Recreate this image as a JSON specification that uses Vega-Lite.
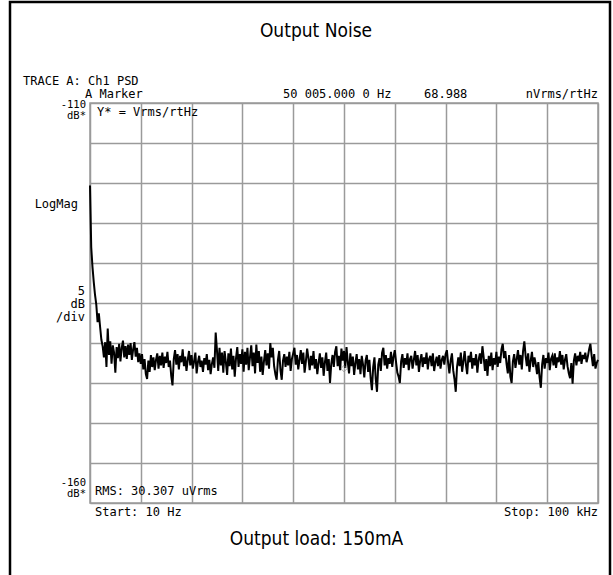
{
  "$schema": "https://vega.github.io/schema/vega-lite/v6.json",
  "width": 508,
  "height": 400,
  "autosize": "none",
  "padding": {"left": 90, "top": 103, "right": 15, "bottom": 72},
  "background": "white",
  "config": {
    "view": {"stroke": "#9a9a9a", "strokeWidth": 1.5},
    "text": {"font": "DejaVu Sans Mono", "fontSize": 12, "color": "black", "baseline": "alphabetic"}
  },
  "datasets": {
    "trace": [
      {"f":10,"db":-120.3},{"f":250,"db":-128.0},{"f":500,"db":-130.5},{"f":750,"db":-132.4},{"f":1000,"db":-134.0},{"f":1250,"db":-135.2},{"f":1500,"db":-137.4},{"f":1750,"db":-136.3},{"f":2000,"db":-138.0},{"f":2250,"db":-139.6},
      {"f":2500,"db":-140.4},{"f":2750,"db":-141.8},{"f":3000,"db":-139.9},{"f":3250,"db":-143.0},{"f":3500,"db":-138.2},{"f":3750,"db":-141.5},{"f":4000,"db":-139.8},{"f":4250,"db":-142.6},{"f":4500,"db":-140.3},{"f":4750,"db":-141.2},
      {"f":5000,"db":-143.7},{"f":5250,"db":-140.5},{"f":5500,"db":-141.9},{"f":5750,"db":-140.1},{"f":6000,"db":-142.3},{"f":6250,"db":-140.6},{"f":6500,"db":-139.7},{"f":6750,"db":-141.8},{"f":7000,"db":-140.4},{"f":7250,"db":-142.0},
      {"f":7500,"db":-140.2},{"f":7750,"db":-141.5},{"f":8000,"db":-140.0},{"f":8250,"db":-142.1},{"f":8500,"db":-140.8},{"f":8750,"db":-139.9},{"f":9000,"db":-141.7},{"f":9250,"db":-140.6},{"f":9500,"db":-142.4},{"f":9750,"db":-141.3},
      {"f":10000,"db":-142.6},{"f":10250,"db":-141.4},{"f":10500,"db":-143.3},{"f":10750,"db":-142.0},{"f":11000,"db":-143.9},{"f":11250,"db":-144.5},{"f":11500,"db":-142.2},{"f":11750,"db":-143.6},{"f":12000,"db":-141.5},{"f":12250,"db":-143.0},
      {"f":12500,"db":-141.8},{"f":12750,"db":-143.4},{"f":13000,"db":-142.1},{"f":13250,"db":-141.3},{"f":13500,"db":-143.2},{"f":13750,"db":-141.6},{"f":14000,"db":-142.8},{"f":14250,"db":-141.2},{"f":14500,"db":-143.1},{"f":14750,"db":-141.7},
      {"f":15000,"db":-142.5},{"f":15250,"db":-141.1},{"f":15500,"db":-143.0},{"f":15750,"db":-142.2},{"f":16000,"db":-144.1},{"f":16250,"db":-145.3},{"f":16500,"db":-142.0},{"f":16750,"db":-140.9},{"f":17000,"db":-142.7},{"f":17250,"db":-141.4},
      {"f":17500,"db":-143.3},{"f":17750,"db":-141.6},{"f":18000,"db":-142.4},{"f":18250,"db":-140.8},{"f":18500,"db":-142.9},{"f":18750,"db":-141.7},{"f":19000,"db":-143.5},{"f":19250,"db":-142.1},{"f":19500,"db":-141.0},{"f":19750,"db":-142.8},
      {"f":20000,"db":-141.5},{"f":20250,"db":-143.2},{"f":20500,"db":-142.3},{"f":20750,"db":-141.2},{"f":21000,"db":-143.8},{"f":21250,"db":-142.4},{"f":21500,"db":-141.6},{"f":21750,"db":-143.0},{"f":22000,"db":-142.2},{"f":22250,"db":-143.6},
      {"f":22500,"db":-141.9},{"f":22750,"db":-142.7},{"f":23000,"db":-141.4},{"f":23250,"db":-143.4},{"f":23500,"db":-142.1},{"f":23750,"db":-143.9},{"f":24000,"db":-142.6},{"f":24250,"db":-141.8},{"f":24500,"db":-143.1},{"f":24750,"db":-138.7},
      {"f":25000,"db":-140.9},{"f":25250,"db":-143.5},{"f":25500,"db":-140.6},{"f":25750,"db":-142.8},{"f":26000,"db":-141.2},{"f":26250,"db":-143.7},{"f":26500,"db":-141.0},{"f":26750,"db":-142.4},{"f":27000,"db":-144.0},{"f":27250,"db":-141.3},
      {"f":27500,"db":-142.9},{"f":27750,"db":-140.7},{"f":28000,"db":-143.3},{"f":28250,"db":-141.6},{"f":28500,"db":-144.2},{"f":28750,"db":-141.9},{"f":29000,"db":-140.5},{"f":29250,"db":-143.0},{"f":29500,"db":-141.4},{"f":29750,"db":-142.6},
      {"f":30000,"db":-140.8},{"f":30250,"db":-143.6},{"f":30500,"db":-141.1},{"f":30750,"db":-142.7},{"f":31000,"db":-140.6},{"f":31250,"db":-143.4},{"f":31500,"db":-141.8},{"f":31750,"db":-140.3},{"f":32000,"db":-142.9},{"f":32250,"db":-141.2},
      {"f":32500,"db":-143.8},{"f":32750,"db":-140.2},{"f":33000,"db":-142.5},{"f":33250,"db":-141.0},{"f":33500,"db":-143.6},{"f":33750,"db":-141.7},{"f":34000,"db":-144.0},{"f":34250,"db":-142.3},{"f":34500,"db":-140.9},{"f":34750,"db":-142.8},
      {"f":35000,"db":-141.3},{"f":35250,"db":-143.2},{"f":35500,"db":-140.0},{"f":35750,"db":-141.8},{"f":36000,"db":-140.6},{"f":36250,"db":-142.9},{"f":36500,"db":-143.9},{"f":36750,"db":-144.6},{"f":37000,"db":-142.1},{"f":37250,"db":-141.0},
      {"f":37500,"db":-143.4},{"f":37750,"db":-144.6},{"f":38000,"db":-142.2},{"f":38250,"db":-141.4},{"f":38500,"db":-143.0},{"f":38750,"db":-141.7},{"f":39000,"db":-142.8},{"f":39250,"db":-141.1},{"f":39500,"db":-143.5},{"f":39750,"db":-142.0},
      {"f":40000,"db":-141.3},{"f":40250,"db":-140.6},{"f":40500,"db":-142.7},{"f":40750,"db":-141.5},{"f":41000,"db":-143.3},{"f":41250,"db":-142.1},{"f":41500,"db":-140.9},{"f":41750,"db":-142.6},{"f":42000,"db":-141.2},{"f":42250,"db":-143.7},
      {"f":42500,"db":-142.3},{"f":42750,"db":-140.7},{"f":43000,"db":-141.9},{"f":43250,"db":-143.4},{"f":43500,"db":-141.6},{"f":43750,"db":-142.8},{"f":44000,"db":-141.0},{"f":44250,"db":-143.2},{"f":44500,"db":-142.0},{"f":44750,"db":-143.9},
      {"f":45000,"db":-142.5},{"f":45250,"db":-141.3},{"f":45500,"db":-143.1},{"f":45750,"db":-141.8},{"f":46000,"db":-144.1},{"f":46250,"db":-142.4},{"f":46500,"db":-141.2},{"f":46750,"db":-143.5},{"f":47000,"db":-142.0},{"f":47250,"db":-145.0},
      {"f":47500,"db":-142.6},{"f":47750,"db":-141.5},{"f":48000,"db":-143.0},{"f":48250,"db":-141.1},{"f":48500,"db":-140.4},{"f":48750,"db":-142.9},{"f":49000,"db":-141.6},{"f":49250,"db":-143.4},{"f":49500,"db":-140.7},{"f":49750,"db":-142.2},
      {"f":50000,"db":-141.0},{"f":50250,"db":-143.1},{"f":50500,"db":-140.5},{"f":50750,"db":-142.4},{"f":51000,"db":-143.8},{"f":51250,"db":-141.3},{"f":51500,"db":-142.9},{"f":51750,"db":-141.7},{"f":52000,"db":-144.0},{"f":52250,"db":-142.5},
      {"f":52500,"db":-141.4},{"f":52750,"db":-143.3},{"f":53000,"db":-142.0},{"f":53250,"db":-143.9},{"f":53500,"db":-141.6},{"f":53750,"db":-142.7},{"f":54000,"db":-144.3},{"f":54250,"db":-142.2},{"f":54500,"db":-141.5},{"f":54750,"db":-143.6},
      {"f":55000,"db":-142.1},{"f":55250,"db":-144.4},{"f":55500,"db":-145.9},{"f":55750,"db":-143.0},{"f":56000,"db":-141.8},{"f":56250,"db":-144.5},{"f":56500,"db":-146.1},{"f":56750,"db":-142.7},{"f":57000,"db":-141.9},{"f":57250,"db":-143.5},
      {"f":57500,"db":-141.2},{"f":57750,"db":-140.6},{"f":58000,"db":-142.8},{"f":58250,"db":-141.5},{"f":58500,"db":-143.2},{"f":58750,"db":-141.9},{"f":59000,"db":-142.6},{"f":59250,"db":-141.1},{"f":59500,"db":-143.0},{"f":59750,"db":-141.7},
      {"f":60000,"db":-140.9},{"f":60250,"db":-142.4},{"f":60500,"db":-143.7},{"f":60750,"db":-144.2},{"f":61000,"db":-145.0},{"f":61250,"db":-142.3},{"f":61500,"db":-141.4},{"f":61750,"db":-143.1},{"f":62000,"db":-141.9},{"f":62250,"db":-142.7},
      {"f":62500,"db":-141.3},{"f":62750,"db":-143.4},{"f":63000,"db":-142.0},{"f":63250,"db":-141.6},{"f":63500,"db":-143.2},{"f":63750,"db":-142.1},{"f":64000,"db":-141.0},{"f":64250,"db":-142.8},{"f":64500,"db":-141.5},{"f":64750,"db":-143.6},
      {"f":65000,"db":-142.2},{"f":65250,"db":-141.4},{"f":65500,"db":-143.0},{"f":65750,"db":-141.8},{"f":66000,"db":-142.6},{"f":66250,"db":-141.2},{"f":66500,"db":-143.3},{"f":66750,"db":-142.0},{"f":67000,"db":-141.6},{"f":67250,"db":-142.9},
      {"f":67500,"db":-141.3},{"f":67750,"db":-143.5},{"f":68000,"db":-142.4},{"f":68250,"db":-141.7},{"f":68500,"db":-142.9},{"f":68750,"db":-141.5},{"f":69000,"db":-143.2},{"f":69250,"db":-142.1},{"f":69500,"db":-141.6},{"f":69750,"db":-142.7},
      {"f":70000,"db":-141.4},{"f":70250,"db":-140.9},{"f":70500,"db":-142.5},{"f":70750,"db":-143.8},{"f":71000,"db":-142.2},{"f":71250,"db":-141.3},{"f":71500,"db":-143.4},{"f":71750,"db":-144.5},{"f":72000,"db":-146.1},{"f":72250,"db":-143.0},
      {"f":72500,"db":-141.8},{"f":72750,"db":-142.9},{"f":73000,"db":-141.2},{"f":73250,"db":-143.6},{"f":73500,"db":-142.3},{"f":73750,"db":-141.0},{"f":74000,"db":-142.7},{"f":74250,"db":-143.9},{"f":74500,"db":-141.6},{"f":74750,"db":-142.4},
      {"f":75000,"db":-141.1},{"f":75250,"db":-143.2},{"f":75500,"db":-141.9},{"f":75750,"db":-142.8},{"f":76000,"db":-141.4},{"f":76250,"db":-143.7},{"f":76500,"db":-142.1},{"f":76750,"db":-141.3},{"f":77000,"db":-142.6},{"f":77250,"db":-140.4},
      {"f":77500,"db":-141.8},{"f":77750,"db":-143.5},{"f":78000,"db":-142.0},{"f":78250,"db":-144.1},{"f":78500,"db":-141.6},{"f":78750,"db":-142.9},{"f":79000,"db":-141.2},{"f":79250,"db":-143.4},{"f":79500,"db":-141.9},{"f":79750,"db":-142.7},
      {"f":80000,"db":-141.1},{"f":80250,"db":-143.0},{"f":80500,"db":-141.7},{"f":80750,"db":-142.5},{"f":81000,"db":-140.8},{"f":81250,"db":-140.1},{"f":81500,"db":-141.9},{"f":81750,"db":-141.0},{"f":82000,"db":-142.6},{"f":82250,"db":-143.8},
      {"f":82500,"db":-141.5},{"f":82750,"db":-144.2},{"f":83000,"db":-145.0},{"f":83250,"db":-142.3},{"f":83500,"db":-141.4},{"f":83750,"db":-143.1},{"f":84000,"db":-142.0},{"f":84250,"db":-140.9},{"f":84500,"db":-142.7},{"f":84750,"db":-141.5},
      {"f":85000,"db":-143.3},{"f":85250,"db":-141.0},{"f":85500,"db":-139.8},{"f":85750,"db":-141.6},{"f":86000,"db":-142.9},{"f":86250,"db":-141.3},{"f":86500,"db":-143.6},{"f":86750,"db":-142.2},{"f":87000,"db":-141.1},{"f":87250,"db":-143.0},
      {"f":87500,"db":-141.8},{"f":87750,"db":-142.6},{"f":88000,"db":-143.9},{"f":88250,"db":-142.4},{"f":88500,"db":-144.3},{"f":88750,"db":-145.6},{"f":89000,"db":-142.7},{"f":89250,"db":-141.5},{"f":89500,"db":-143.2},{"f":89750,"db":-141.9},
      {"f":90000,"db":-142.5},{"f":90250,"db":-141.2},{"f":90500,"db":-143.4},{"f":90750,"db":-142.0},{"f":91000,"db":-141.6},{"f":91250,"db":-142.8},{"f":91500,"db":-141.3},{"f":91750,"db":-143.1},{"f":92000,"db":-141.8},{"f":92250,"db":-142.4},
      {"f":92500,"db":-141.0},{"f":92750,"db":-142.7},{"f":93000,"db":-141.5},{"f":93250,"db":-143.3},{"f":93500,"db":-142.1},{"f":93750,"db":-141.4},{"f":94000,"db":-142.9},{"f":94250,"db":-143.8},{"f":94500,"db":-144.4},{"f":94750,"db":-142.5},
      {"f":95000,"db":-145.1},{"f":95250,"db":-142.2},{"f":95500,"db":-141.3},{"f":95750,"db":-142.8},{"f":96000,"db":-141.6},{"f":96250,"db":-142.3},{"f":96500,"db":-141.1},{"f":96750,"db":-142.6},{"f":97000,"db":-141.5},{"f":97250,"db":-142.0},
      {"f":97500,"db":-141.2},{"f":97750,"db":-142.4},{"f":98000,"db":-141.7},{"f":98250,"db":-140.8},{"f":98500,"db":-140.1},{"f":98750,"db":-141.6},{"f":99000,"db":-142.9},{"f":99250,"db":-141.4},{"f":99500,"db":-143.2},{"f":99750,"db":-142.5},
      {"f":100000,"db":-142.1}
    ],
    "marker": [{"f": 50005, "db": -143.2}],
    "one": [{}]
  },
  "layer": [
    {
      "data": {"name": "trace"},
      "mark": {"type": "line", "color": "black", "strokeWidth": 2, "interpolate": "linear"},
      "encoding": {
        "x": {"field": "f", "type": "quantitative",
              "scale": {"domain": [10, 100000], "nice": false, "zero": false},
              "axis": {"labels": false, "ticks": false, "domain": false, "grid": true, "gridColor": "#9a9a9a", "gridWidth": 1.5, "gridOpacity": 1, "tickCount": 20,
                       "values": [10, 10009, 20008, 30007, 40006, 50005, 60004, 70003, 80002, 90001, 100000],
                       "title": "Output load: 150mA", "titleFont": "Liberation Sans Narrow, DejaVu Sans Condensed, sans-serif", "titleFontSize": 19, "titleFontWeight": "normal", "titleColor": "black", "titlePadding": 26, "titleX": 226}},
        "y": {"field": "db", "type": "quantitative",
              "scale": {"domain": [-160, -110], "nice": false, "zero": false},
              "axis": {"labels": false, "ticks": false, "domain": false, "grid": true, "gridColor": "#9a9a9a", "gridWidth": 1.5, "gridOpacity": 1, "tickCount": 20,
                       "values": [-160, -155, -150, -145, -140, -135, -130, -125, -120, -115, -110], "title": null}}
      }
    },
    {
      "data": {"name": "marker"},
      "mark": {"type": "point", "shape": "diamond", "filled": false, "stroke": "#888888", "strokeWidth": 1, "size": 40},
      "encoding": {"x": {"field": "f", "type": "quantitative"}, "y": {"field": "db", "type": "quantitative"}}
    },
    {
      "data": {"name": "one"},
      "mark": {"type": "rect", "fill": null, "stroke": "black", "strokeWidth": 2.5},
      "encoding": {"x": {"datum": -15736}, "x2": {"datum": 102362}, "y": {"datum": -97.375}, "y2": {"datum": -169.6}}
    },
    {"data": {"name": "one"}, "mark": {"type": "text", "text": "Output Noise", "align": "center", "font": "Liberation Sans Narrow, DejaVu Sans Condensed, sans-serif", "fontSize": 19}, "encoding": {"x": {"datum": 44494}, "y": {"datum": -101.7}}},
    {"data": {"name": "one"}, "mark": {"type": "text", "text": "TRACE A: Ch1 PSD", "align": "left"}, "encoding": {"x": {"datum": -13178}, "y": {"datum": -107.75}}},
    {"data": {"name": "one"}, "mark": {"type": "text", "text": "A Marker", "align": "left"}, "encoding": {"x": {"datum": -974}, "y": {"datum": -109.35}}},
    {"data": {"name": "one"}, "mark": {"type": "text", "text": "50 005.000 0 Hz", "align": "left"}, "encoding": {"x": {"datum": 37998}, "y": {"datum": -109.35}}},
    {"data": {"name": "one"}, "mark": {"type": "text", "text": "68.988", "align": "left"}, "encoding": {"x": {"datum": 65751}, "y": {"datum": -109.35}}},
    {"data": {"name": "one"}, "mark": {"type": "text", "text": "nVrms/rtHz", "align": "right"}, "encoding": {"x": {"datum": 100000}, "y": {"datum": -109.35}}},
    {"data": {"name": "one"}, "mark": {"type": "text", "text": "-110", "align": "right", "fontSize": 10.5}, "encoding": {"x": {"datum": -777}, "y": {"datum": -110.6}}},
    {"data": {"name": "one"}, "mark": {"type": "text", "text": "dB*", "align": "right", "fontSize": 10.5}, "encoding": {"x": {"datum": -777}, "y": {"datum": -112.0}}},
    {"data": {"name": "one"}, "mark": {"type": "text", "text": "Y* = Vrms/rtHz", "align": "left"}, "encoding": {"x": {"datum": 1388}, "y": {"datum": -111.6}}},
    {"data": {"name": "one"}, "mark": {"type": "text", "text": "LogMag", "align": "right"}, "encoding": {"x": {"datum": -2352}, "y": {"datum": -123.125}}},
    {"data": {"name": "one"}, "mark": {"type": "text", "text": "5", "align": "right"}, "encoding": {"x": {"datum": -974}, "y": {"datum": -134.0}}},
    {"data": {"name": "one"}, "mark": {"type": "text", "text": "dB", "align": "right"}, "encoding": {"x": {"datum": -974}, "y": {"datum": -135.625}}},
    {"data": {"name": "one"}, "mark": {"type": "text", "text": "/div", "align": "right"}, "encoding": {"x": {"datum": -974}, "y": {"datum": -137.25}}},
    {"data": {"name": "one"}, "mark": {"type": "text", "text": "-160", "align": "right", "fontSize": 10.5}, "encoding": {"x": {"datum": -777}, "y": {"datum": -157.9}}},
    {"data": {"name": "one"}, "mark": {"type": "text", "text": "dB*", "align": "right", "fontSize": 10.5}, "encoding": {"x": {"datum": -777}, "y": {"datum": -159.3}}},
    {"data": {"name": "one"}, "mark": {"type": "text", "text": "RMS: 30.307  uVrms", "align": "left"}, "encoding": {"x": {"datum": 994}, "y": {"datum": -159.0}}},
    {"data": {"name": "one"}, "mark": {"type": "text", "text": "Start: 10 Hz", "align": "left"}, "encoding": {"x": {"datum": 994}, "y": {"datum": -161.6}}},
    {"data": {"name": "one"}, "mark": {"type": "text", "text": "Stop: 100 kHz", "align": "right"}, "encoding": {"x": {"datum": 100000}, "y": {"datum": -161.6}}}
  ]
}
